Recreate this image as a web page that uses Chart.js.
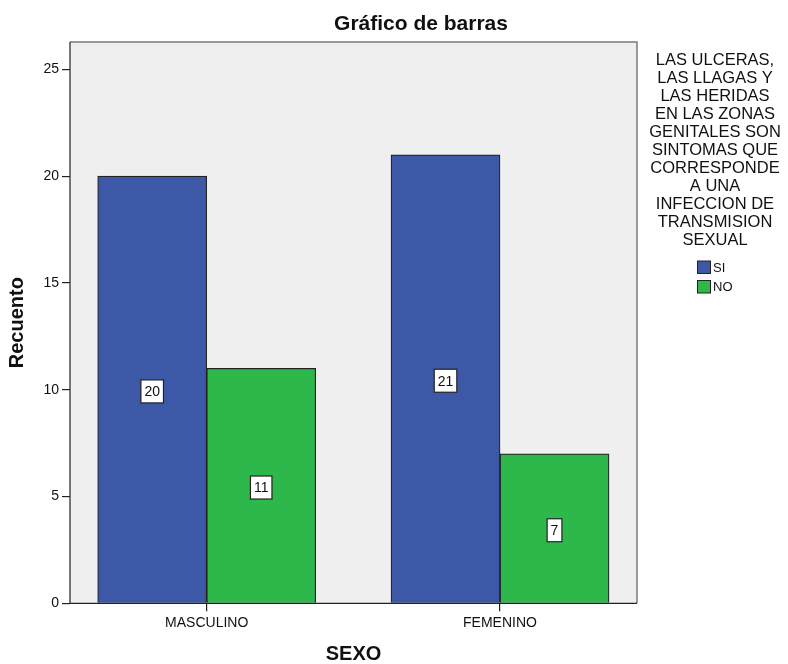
<!DOCTYPE html>
<html>
<head>
<meta charset="utf-8">
<script src="https://cdn.jsdelivr.net/npm/chart.js@4.4.1/dist/chart.umd.min.js"></script>
<style>
  html, body { margin: 0; padding: 0; background: #ffffff; }
  #wrap { width: 788px; height: 664px; }
</style>
</head>
<body>
<div id="wrap"><canvas id="grafico" width="788" height="664"></canvas></div>
<script>
// Datos del gráfico
const sexo = ['MASCULINO', 'FEMENINO'];
const valoresSi = [20, 21];
const valoresNo = [11, 7];
const seriesNombres = ['SI', 'NO'];
const leyendaTitulo = ['LAS ULCERAS,', 'LAS LLAGAS Y', 'LAS HERIDAS', 'EN LAS ZONAS', 'GENITALES SON',
  'SINTOMAS QUE', 'CORRESPONDE', 'A UNA', 'INFECCION DE', 'TRANSMISION', 'SEXUAL'];
const ticksY = [0, 5, 10, 15, 20, 25];

const fuente = '"Liberation Sans", Arial, sans-serif';

// fondo gris y marco del área de trazado
const marcoPlugin = {
  id: 'marco',
  beforeDatasetsDraw(chart) {
    const { ctx, chartArea: a } = chart;
    ctx.save();
    ctx.fillStyle = '#efefef';
    ctx.fillRect(a.left, a.top, a.right - a.left, a.bottom - a.top);
    ctx.restore();
  },
  afterDatasetsDraw(chart) {
    const { ctx, chartArea: a } = chart;
    ctx.save();
    ctx.lineWidth = 1.5;
    ctx.strokeStyle = '#7a7a7a';
    ctx.beginPath();
    ctx.moveTo(a.left, a.top);
    ctx.lineTo(a.right, a.top);
    ctx.lineTo(a.right, a.bottom);
    ctx.stroke();
    ctx.lineWidth = 1.2;
    ctx.strokeStyle = '#222';
    ctx.beginPath();
    ctx.moveTo(a.left, a.top);
    ctx.lineTo(a.left, a.bottom);
    ctx.lineTo(a.right, a.bottom);
    ctx.stroke();

    // etiquetas de valor en el centro de cada barra
    ctx.font = '14px ' + fuente;
    ctx.textAlign = 'center';
    ctx.textBaseline = 'middle';
    chart.data.datasets.forEach((ds, i) => {
      chart.getDatasetMeta(i).data.forEach((el, j) => {
        const txt = String(ds.data[j].y);
        const cx = el.x;
        const cy = (el.y + el.base) / 2 + 2;
        const w = ctx.measureText(txt).width + 7;
        const h = 23;
        ctx.fillStyle = '#ffffff';
        ctx.fillRect(cx - w / 2, cy - h / 2, w, h);
        ctx.lineWidth = 1.2;
        ctx.strokeStyle = '#222';
        ctx.strokeRect(cx - w / 2, cy - h / 2, w, h);
        ctx.fillStyle = '#111';
        ctx.fillText(txt, cx, cy + 1);
      });
    });
    ctx.restore();
  },
  afterDraw(chart) {
    const { ctx } = chart;
    ctx.save();
    ctx.fillStyle = '#111';
    ctx.textAlign = 'center';
    ctx.textBaseline = 'middle';
    ctx.font = 'bold 21px ' + fuente;
    ctx.fillText('Gráfico de barras', 421, 24);

    // leyenda
    ctx.font = '16.5px ' + fuente;
    leyendaTitulo.forEach((linea, i) => {
      ctx.fillText(linea, 715, 60 + i * 18);
    });
    ctx.textAlign = 'left';
    ctx.font = '13px ' + fuente;
    chart.data.datasets.forEach((ds, i) => {
      const y = 261 + i * 19.5;
      ctx.fillStyle = ds.backgroundColor;
      ctx.fillRect(697.5, y, 13, 12.5);
      ctx.lineWidth = 1;
      ctx.strokeStyle = '#222';
      ctx.strokeRect(697.5, y, 13, 12.5);
      ctx.fillStyle = '#111';
      ctx.fillText(ds.label, 713, y + 7);
    });
    ctx.restore();
  }
};

new Chart(document.getElementById('grafico'), {
  type: 'bar',
  data: {
    datasets: [
      {
        label: seriesNombres[0],
        data: sexo.map((s, i) => ({ x: i, y: valoresSi[i] })),
        backgroundColor: '#3e58a8',
        borderColor: '#222',
        borderWidth: 1.2,
        barThickness: 109
      },
      {
        label: seriesNombres[1],
        data: sexo.map((s, i) => ({ x: i, y: valoresNo[i] })),
        backgroundColor: '#2eb84b',
        borderColor: '#222',
        borderWidth: 1.2,
        barThickness: 109
      }
    ]
  },
  options: {
    responsive: false,
    animation: false,
    layout: { padding: { top: 42, right: 151, left: 0, bottom: 0 } },
    plugins: {
      legend: { display: false },
      tooltip: { enabled: false }
    },
    scales: {
      x: {
        type: 'linear',
        min: -0.466,
        max: 1.467,
        offset: false,
        afterBuildTicks: (scale) => { scale.ticks = sexo.map((s, i) => ({ value: i })); },
        afterFit: (scale) => { scale.height = 60.7; },
        grid: { offset: false, drawOnChartArea: false, drawTicks: true, tickLength: 8, color: '#222', lineWidth: 1.2 },
        border: { display: false },
        ticks: {
          autoSkip: false,
          maxRotation: 0,
          padding: 3,
          color: '#111',
          font: { family: fuente, size: 14 },
          callback: (v) => sexo[v]
        },
        title: {
          display: true,
          text: 'SEXO',
          color: '#111',
          font: { family: fuente, size: 20, weight: 'bold', lineHeight: 1 },
          padding: { top: 0, bottom: 0 }
        }
      },
      y: {
        min: 0,
        max: 26.28,
        afterBuildTicks: (scale) => { scale.ticks = ticksY.map(v => ({ value: v })); },
        afterFit: (scale) => { scale.width = 70; },
        grid: { drawOnChartArea: false, drawTicks: true, tickLength: 8, color: '#222', lineWidth: 1.2 },
        border: { display: false },
        ticks: {
          padding: 3,
          color: '#111',
          font: { family: fuente, size: 14 }
        },
        title: {
          display: true,
          text: 'Recuento',
          color: '#111',
          font: { family: fuente, size: 20, weight: 'bold', lineHeight: 1 },
          padding: { top: 7.5, bottom: 0 }
        }
      }
    }
  },
  plugins: [marcoPlugin]
});
</script>
</body>
</html>
